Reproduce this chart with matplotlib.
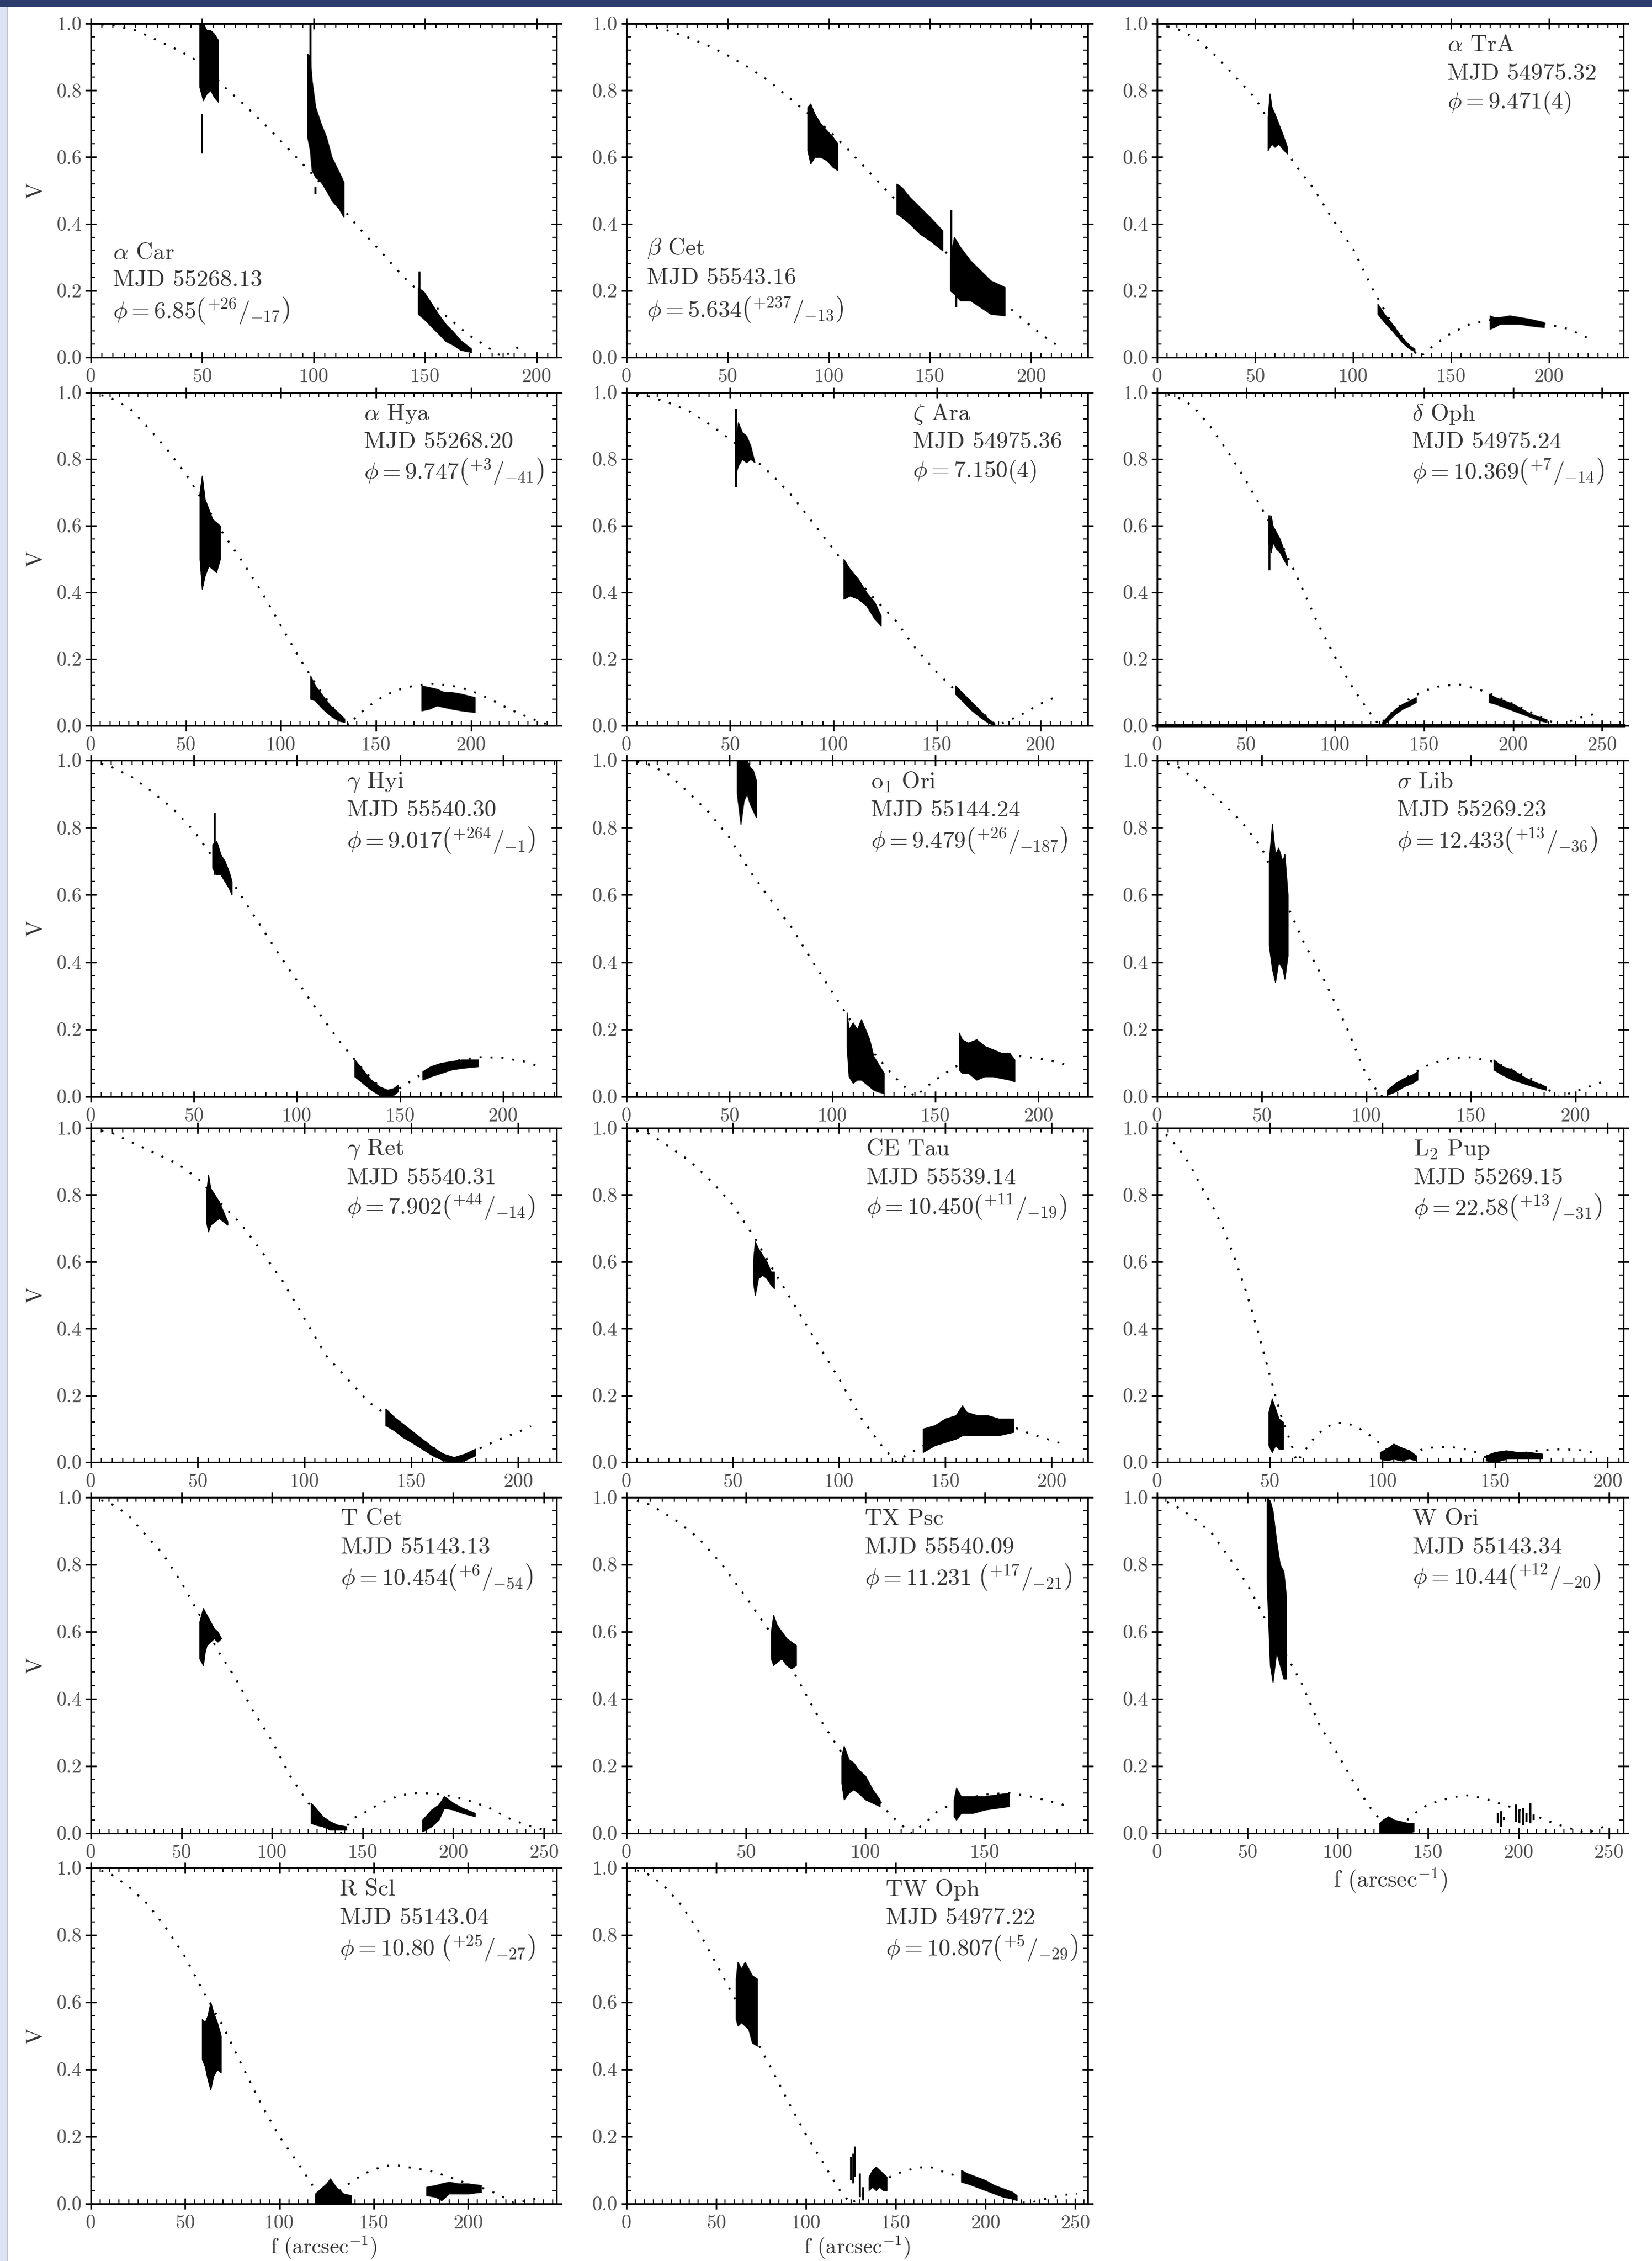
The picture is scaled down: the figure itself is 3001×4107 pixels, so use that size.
import matplotlib
matplotlib.use('Agg')
import matplotlib.pyplot as plt
from matplotlib.ticker import MultipleLocator, FormatStrFormatter
from matplotlib.patches import Rectangle
from matplotlib.mathtext import MathTextParser

plt.rcParams['font.family'] = 'cmr10'
plt.rcParams['mathtext.fontset'] = 'cm'
plt.rcParams['axes.formatter.use_mathtext'] = True

W, H = 3001, 4107

# ---------------- data ----------------
# alpha Car
acar_mf = [0, 10, 20, 30, 40, 50, 60, 70, 80, 90, 100, 110, 120, 130, 140, 150, 160, 170, 180, 185, 194]
acar_mv = [1.0, 0.995, 0.98, 0.95, 0.918, 0.88, 0.81, 0.75, 0.685, 0.615, 0.545, 0.47, 0.39, 0.318, 0.243, 0.18, 0.12, 0.065, 0.022, 0.0, 0.04]
acar_d1 = ([48.8, 50.4, 52.0, 53.7, 55.3, 57.2], [0.81, 0.77, 0.79, 0.80, 0.78, 0.765], [1.0, 1.0, 0.98, 0.98, 0.97, 0.95])
acar_d2 = ([97.2, 98.4, 99.2, 100.8, 103.3, 105.7, 108.1, 111.4, 113.5], [0.66, 0.62, 0.56, 0.54, 0.525, 0.5, 0.47, 0.445, 0.42], [0.91, 0.9, 0.83, 0.75, 0.70, 0.66, 0.6, 0.555, 0.525])
acar_d3 = ([146.8, 149.6, 152.8, 156.1, 159.3, 162.6, 165.9, 170.7], [0.13, 0.114, 0.092, 0.07, 0.048, 0.037, 0.022, 0.015], [0.21, 0.195, 0.162, 0.128, 0.099, 0.077, 0.051, 0.026])
acar_sp = ([49.8, 98.6, 147.6, 100.8], [0.61, 0.7, 0.13, 0.49], [0.73, 1.0, 0.257, 0.51])
acar_txt = (r'$\alpha$ Car', 'MJD 55268.13', r'$\phi = 6.85\left(^{+26}/_{-17}\right)$')

# beta Cet
bcet_mf = [4, 10, 20, 30, 40, 50, 60, 70, 80, 90, 100, 110, 120, 130, 140, 150, 160, 170, 180, 190, 200, 210, 215]
bcet_mv = [1.0, 0.995, 0.98, 0.96, 0.935, 0.905, 0.87, 0.83, 0.78, 0.73, 0.68, 0.62, 0.555, 0.49, 0.43, 0.37, 0.3, 0.245, 0.195, 0.145, 0.093, 0.046, 0.03]
bcet_d1 = ([89.5, 91, 93, 96, 99, 102, 104.4], [0.62, 0.58, 0.6, 0.6, 0.59, 0.57, 0.56], [0.75, 0.76, 0.73, 0.7, 0.68, 0.66, 0.64])
bcet_d2 = ([133.5, 136, 140, 145, 150, 156.2], [0.43, 0.42, 0.40, 0.37, 0.35, 0.32], [0.52, 0.51, 0.48, 0.45, 0.42, 0.38])
bcet_d3 = ([160, 162, 165, 170, 175, 180, 187], [0.2, 0.19, 0.17, 0.17, 0.15, 0.13, 0.125], [0.3, 0.36, 0.33, 0.29, 0.26, 0.23, 0.21])
bcet_sp = ([160.5, 163], [0.2, 0.15], [0.44, 0.2])
bcet_txt = (r'$\beta$ Cet', 'MJD 55543.16', r'$\phi = 5.634\left(^{+237}/_{-13}\right)$')

# alpha TrA
atra_mf = [0, 10, 20, 30, 40, 50, 60, 70, 80, 90, 100, 110, 120, 130, 134, 140, 150, 160, 170, 180, 190, 200, 210, 222]
atra_mv = [1.0, 0.985, 0.955, 0.903, 0.84, 0.777, 0.68, 0.58, 0.505, 0.41, 0.325, 0.205, 0.1, 0.025, 0.0, 0.03, 0.072, 0.1, 0.112, 0.112, 0.106, 0.098, 0.085, 0.052]
atra_d1 = ([56.5, 57.5, 58.5, 60, 62, 64, 66.4], [0.62, 0.63, 0.64, 0.63, 0.64, 0.625, 0.61], [0.72, 0.79, 0.75, 0.73, 0.70, 0.67, 0.63])
atra_d2 = ([112.6, 116, 120, 125, 129, 131.5], [0.13, 0.105, 0.08, 0.045, 0.025, 0.018], [0.16, 0.13, 0.1, 0.06, 0.035, 0.025])
atra_d3 = ([169.8, 172, 175, 180, 185, 190, 197.5], [0.085, 0.09, 0.1, 0.1, 0.1, 0.095, 0.09], [0.125, 0.12, 0.12, 0.125, 0.12, 0.115, 0.105])
atra_txt = (r'$\alpha$ TrA', 'MJD 54975.32', r'$\phi = 9.471(4)$')

# alpha Hya
ahya_mf = [0, 10, 20, 30, 40, 50, 60, 70, 80, 90, 100, 110, 120, 130, 136, 140, 150, 160, 170, 180, 190, 200, 210, 220, 230, 240]
ahya_mv = [1.0, 0.985, 0.955, 0.895, 0.83, 0.755, 0.665, 0.573, 0.49, 0.4, 0.3, 0.2, 0.11, 0.035, 0.0, 0.03, 0.075, 0.105, 0.12, 0.125, 0.12, 0.105, 0.08, 0.05, 0.025, 0.003]
ahya_d1 = ([57.3, 58.5, 60, 62, 64, 66, 68], [0.5, 0.41, 0.45, 0.48, 0.47, 0.46, 0.5], [0.7, 0.75, 0.68, 0.65, 0.62, 0.61, 0.6])
ahya_d2 = ([115.5, 118, 122, 126, 130, 133.5], [0.08, 0.075, 0.05, 0.03, 0.015, 0.01], [0.15, 0.12, 0.09, 0.06, 0.04, 0.02])
ahya_d3 = ([174, 178, 182, 186, 190, 195, 202], [0.045, 0.05, 0.06, 0.055, 0.05, 0.045, 0.04], [0.12, 0.115, 0.11, 0.1, 0.1, 0.095, 0.085])
ahya_txt = (r'$\alpha$ Hya', 'MJD 55268.20', r'$\phi = 9.747\left(^{+3}/_{-41}\right)$')

# zeta Ara
zara_mf = [0, 10, 20, 30, 40, 50, 60, 70, 80, 90, 100, 110, 120, 130, 140, 150, 160, 170, 179, 190, 200, 209]
zara_mv = [1.0, 0.99, 0.97, 0.945, 0.905, 0.86, 0.81, 0.755, 0.69, 0.61, 0.53, 0.45, 0.38, 0.316, 0.23, 0.16, 0.1, 0.05, 0.0, 0.03, 0.065, 0.09]
zara_d1 = ([52.5, 54, 56, 58, 60, 62], [0.75, 0.78, 0.8, 0.79, 0.8, 0.79], [0.85, 0.91, 0.88, 0.87, 0.84, 0.79])
zara_d2 = ([105, 108, 112, 116, 120, 123], [0.38, 0.39, 0.38, 0.36, 0.32, 0.3], [0.5, 0.47, 0.44, 0.4, 0.37, 0.33])
zara_d3 = ([159, 163, 167, 171, 175, 178], [0.095, 0.07, 0.045, 0.025, 0.008, 0.0], [0.12, 0.095, 0.07, 0.045, 0.02, 0.006])
zara_sp = ([53.0], [0.715], [0.95])
zara_txt = (r'$\zeta$ Ara', 'MJD 54975.36', r'$\phi = 7.150(4)$')

# delta Oph
doph_mf = [0, 10, 20, 30, 40, 50, 60, 70, 80, 90, 100, 110, 120, 125, 130, 140, 150, 160, 170, 180, 190, 200, 210, 220, 227, 235, 248]
doph_mv = [1.0, 0.99, 0.96, 0.897, 0.82, 0.735, 0.64, 0.545, 0.43, 0.31, 0.205, 0.113, 0.035, 0.0, 0.03, 0.075, 0.105, 0.12, 0.123, 0.11, 0.09, 0.065, 0.04, 0.015, 0.0, 0.02, 0.038]
doph_d1 = ([62.5, 64, 65, 67, 69, 71, 73], [0.55, 0.52, 0.55, 0.53, 0.52, 0.5, 0.48], [0.6, 0.63, 0.6, 0.58, 0.56, 0.53, 0.5])
doph_d2 = ([126.5, 130, 134, 138, 142, 145.5], [0.0, 0.015, 0.035, 0.05, 0.06, 0.07], [0.01, 0.03, 0.05, 0.065, 0.075, 0.085])
doph_d3 = ([186.5, 190, 195, 200, 205, 210, 215, 219], [0.07, 0.065, 0.055, 0.045, 0.035, 0.025, 0.015, 0.01], [0.095, 0.085, 0.075, 0.065, 0.05, 0.035, 0.025, 0.018])
doph_sp = ([63.0], [0.466], [0.632])
doph_txt = (r'$\delta$ Oph', 'MJD 54975.24', r'$\phi = 10.369\left(^{+7}/_{-14}\right)$')

# gamma Hyi
ghyi_mf = [0, 10, 20, 30, 40, 50, 60, 70, 80, 90, 100, 110, 120, 130, 140, 145, 150, 160, 170, 180, 190, 200, 210, 216]
ghyi_mv = [1.0, 0.98, 0.95, 0.905, 0.855, 0.79, 0.705, 0.625, 0.53, 0.435, 0.345, 0.255, 0.17, 0.095, 0.03, 0.0, 0.025, 0.065, 0.095, 0.11, 0.118, 0.115, 0.105, 0.093]
ghyi_d1 = ([59, 61, 63, 65, 67, 68.4], [0.68, 0.66, 0.66, 0.64, 0.62, 0.6], [0.75, 0.76, 0.72, 0.7, 0.67, 0.64])
ghyi_d2 = ([128, 132, 136, 140, 144, 147, 149], [0.06, 0.04, 0.02, 0.005, 0.0, 0.005, 0.015], [0.11, 0.08, 0.05, 0.03, 0.02, 0.025, 0.035])
ghyi_d3 = ([161, 165, 170, 175, 180, 188], [0.05, 0.06, 0.07, 0.08, 0.085, 0.09], [0.075, 0.09, 0.1, 0.105, 0.11, 0.11])
ghyi_sp = ([60.0], [0.66], [0.843])
ghyi_txt = (r'$\gamma$ Hyi', 'MJD 55540.30', r'$\phi = 9.017\left(^{+264}/_{-1}\right)$')

# o1 Ori
o1ori_mf = [0, 10, 20, 30, 40, 50, 60, 70, 80, 90, 100, 110, 120, 130, 140, 150, 160, 170, 180, 190, 200, 210, 216]
o1ori_mv = [1.0, 0.99, 0.96, 0.905, 0.845, 0.77, 0.67, 0.585, 0.505, 0.405, 0.31, 0.215, 0.13, 0.06, 0.0, 0.05, 0.09, 0.115, 0.122, 0.121, 0.114, 0.102, 0.088]
o1ori_d1 = ([53.7, 55.5, 57, 58.5, 60, 61.5, 63], [0.9, 0.81, 0.88, 0.9, 0.87, 0.85, 0.83], [1.0, 1.0, 1.0, 1.0, 0.98, 0.97, 0.94])
o1ori_d2 = ([107, 108, 110, 112, 114, 116, 118, 120, 122, 125], [0.15, 0.06, 0.04, 0.05, 0.05, 0.04, 0.03, 0.02, 0.015, 0.01], [0.25, 0.2, 0.22, 0.2, 0.23, 0.2, 0.17, 0.12, 0.1, 0.07])
o1ori_d3 = ([161.5, 163, 166, 170, 174, 178, 182, 186, 188.5], [0.08, 0.07, 0.07, 0.05, 0.06, 0.06, 0.055, 0.05, 0.045], [0.19, 0.17, 0.16, 0.17, 0.15, 0.14, 0.13, 0.13, 0.11])
o1ori_txt = (r'$\mathrm{o}_1$ Ori', 'MJD 55144.24', r'$\phi = 9.479\left(^{+26}/_{-187}\right)$')

# sigma Lib
slib_mf = [0, 10, 20, 30, 40, 50, 60, 70, 80, 90, 100, 107, 110, 120, 130, 140, 150, 160, 170, 180, 192, 200, 210, 215]
slib_mv = [1.0, 0.98, 0.935, 0.88, 0.82, 0.74, 0.6, 0.46, 0.345, 0.215, 0.065, 0.0, 0.015, 0.06, 0.095, 0.115, 0.117, 0.105, 0.08, 0.05, 0.0, 0.015, 0.038, 0.047]
slib_d1 = ([53.5, 55, 56.5, 58, 60, 61, 62.5], [0.45, 0.38, 0.34, 0.4, 0.38, 0.35, 0.42], [0.7, 0.81, 0.72, 0.74, 0.7, 0.72, 0.6])
slib_d2 = ([110, 114, 118, 122, 124.6], [0.005, 0.015, 0.03, 0.04, 0.05], [0.02, 0.04, 0.055, 0.065, 0.075])
slib_d3 = ([161, 165, 170, 175, 180, 186], [0.08, 0.065, 0.05, 0.04, 0.03, 0.02], [0.11, 0.09, 0.08, 0.06, 0.045, 0.03])
slib_txt = (r'$\sigma$ Lib', 'MJD 55269.23', r'$\phi = 12.433\left(^{+13}/_{-36}\right)$')

# gamma Ret
gret_mf = [0, 10, 20, 30, 40, 50, 60, 70, 80, 90, 100, 110, 120, 130, 140, 150, 160, 170, 180, 190, 200, 206]
gret_mv = [1.0, 0.985, 0.955, 0.925, 0.895, 0.85, 0.78, 0.715, 0.63, 0.54, 0.43, 0.32, 0.25, 0.18, 0.135, 0.09, 0.045, 0.0, 0.035, 0.065, 0.09, 0.108]
gret_d1 = ([54, 55, 56, 58, 60, 62, 64], [0.72, 0.69, 0.71, 0.72, 0.73, 0.72, 0.71], [0.8, 0.86, 0.82, 0.8, 0.78, 0.75, 0.72])
gret_d2 = ([138, 142, 146, 150, 155, 160, 165, 170, 175, 180], [0.11, 0.095, 0.075, 0.06, 0.04, 0.02, 0.005, 0.0, 0.005, 0.02], [0.16, 0.135, 0.115, 0.095, 0.07, 0.045, 0.025, 0.015, 0.025, 0.04])
gret_txt = (r'$\gamma$ Ret', 'MJD 55540.31', r'$\phi = 7.902\left(^{+44}/_{-14}\right)$')

# CE Tau
ctau_mf = [0, 10, 20, 30, 40, 50, 60, 70, 80, 90, 100, 110, 120, 127, 130, 140, 150, 160, 170, 180, 190, 200, 206]
ctau_mv = [1.0, 0.985, 0.945, 0.9, 0.84, 0.77, 0.675, 0.565, 0.46, 0.353, 0.25, 0.135, 0.05, 0.0, 0.015, 0.05, 0.085, 0.105, 0.115, 0.11, 0.085, 0.065, 0.053]
ctau_d1 = ([59.6, 60.5, 62, 64, 66, 68, 69.5], [0.54, 0.5, 0.55, 0.56, 0.55, 0.53, 0.52], [0.6, 0.66, 0.64, 0.62, 0.6, 0.57, 0.57])
ctau_d2 = ([139.5, 145, 150, 155, 158, 160, 165, 170, 175, 182], [0.03, 0.05, 0.06, 0.07, 0.08, 0.08, 0.08, 0.08, 0.08, 0.09], [0.1, 0.11, 0.13, 0.14, 0.17, 0.15, 0.14, 0.14, 0.13, 0.13])
ctau_txt = ('CE Tau', 'MJD 55539.14', r'$\phi = 10.450\left(^{+11}/_{-19}\right)$')

# L2 Pup
l2pup_mf = [0, 5, 10, 15, 20, 25, 30, 35, 40, 45, 50, 55, 60, 62, 65, 70, 75, 80, 85, 90, 95, 100, 105, 108, 115, 120, 130, 140, 150, 155, 160, 170, 180, 190, 195]
l2pup_mv = [1.0, 0.975, 0.935, 0.885, 0.82, 0.76, 0.69, 0.6, 0.5, 0.385, 0.26, 0.14, 0.045, 0.0, 0.03, 0.075, 0.105, 0.118, 0.115, 0.1, 0.078, 0.05, 0.02, 0.0, 0.032, 0.043, 0.046, 0.035, 0.0, 0.01, 0.025, 0.035, 0.039, 0.035, 0.025]
l2pup_d1 = ([49.5, 51, 52.5, 54, 56], [0.05, 0.03, 0.05, 0.04, 0.04], [0.15, 0.19, 0.16, 0.13, 0.12])
l2pup_d2 = ([99, 102, 105, 108, 112, 115], [0.01, 0.005, 0.01, 0.005, 0.01, 0.005], [0.03, 0.04, 0.055, 0.045, 0.035, 0.02])
l2pup_d3 = ([146, 150, 155, 160, 165, 171], [0.005, 0.0, 0.01, 0.01, 0.01, 0.01], [0.02, 0.03, 0.035, 0.03, 0.03, 0.025])
l2pup_txt = (r'$\mathrm{L}_2$ Pup', 'MJD 55269.15', r'$\phi = 22.58\left(^{+13}/_{-31}\right)$')

# T Cet
tcet_mf = [0, 10, 20, 30, 40, 50, 60, 70, 80, 90, 100, 110, 120, 130, 138, 145, 150, 160, 170, 180, 190, 200, 210, 220, 230, 240, 250]
tcet_mv = [1.0, 0.985, 0.951, 0.89, 0.83, 0.747, 0.65, 0.545, 0.46, 0.36, 0.275, 0.17, 0.09, 0.035, 0.0, 0.045, 0.058, 0.09, 0.112, 0.12, 0.118, 0.11, 0.095, 0.075, 0.046, 0.025, 0.01]
tcet_d1 = ([60, 62, 63, 64, 66, 68, 70, 72], [0.52, 0.5, 0.54, 0.56, 0.57, 0.58, 0.57, 0.58], [0.63, 0.67, 0.66, 0.65, 0.63, 0.61, 0.6, 0.58])
tcet_d2 = ([121.5, 124, 128, 132, 136, 141], [0.03, 0.025, 0.02, 0.01, 0.01, 0.01], [0.09, 0.075, 0.05, 0.035, 0.025, 0.02])
tcet_d3 = ([183, 188, 192, 195, 200, 205, 212], [0.005, 0.02, 0.04, 0.075, 0.07, 0.06, 0.05], [0.04, 0.07, 0.085, 0.11, 0.09, 0.075, 0.06])
tcet_txt = ('T Cet', 'MJD 55143.13', r'$\phi = 10.454\left(^{+6}/_{-54}\right)$')

# TX Psc
txpsc_mf = [0, 10, 20, 30, 40, 50, 60, 70, 80, 90, 100, 110, 119, 125, 130, 140, 150, 160, 170, 180, 185]
txpsc_mv = [1.0, 0.978, 0.935, 0.88, 0.8, 0.703, 0.6, 0.48, 0.35, 0.24, 0.15, 0.057, 0.0, 0.03, 0.065, 0.1, 0.115, 0.12, 0.108, 0.09, 0.08]
txpsc_d1 = ([60.5, 61.5, 63, 65, 67, 69, 71], [0.52, 0.5, 0.51, 0.52, 0.5, 0.49, 0.5], [0.6, 0.65, 0.62, 0.6, 0.58, 0.57, 0.56])
txpsc_d2 = ([90, 91, 93, 95, 97, 100, 103, 106], [0.15, 0.1, 0.12, 0.13, 0.12, 0.1, 0.09, 0.08], [0.23, 0.26, 0.22, 0.21, 0.19, 0.17, 0.13, 0.1])
txpsc_d3 = ([137, 138, 140, 145, 150, 155, 160], [0.05, 0.04, 0.06, 0.06, 0.07, 0.075, 0.08], [0.1, 0.135, 0.11, 0.11, 0.11, 0.115, 0.12])
txpsc_txt = ('TX Psc', 'MJD 55540.09', r'$\phi = 11.231\ \left(^{+17}/_{-21}\right)$')

# W Ori
wori_mf = [0, 10, 20, 30, 40, 50, 60, 70, 80, 90, 100, 110, 120, 126, 133, 140, 150, 160, 170, 180, 190, 200, 210, 220, 230, 238, 249]
wori_mv = [1.0, 0.975, 0.94, 0.895, 0.82, 0.74, 0.635, 0.545, 0.446, 0.32, 0.235, 0.14, 0.06, 0.03, 0.0, 0.05, 0.086, 0.102, 0.114, 0.105, 0.088, 0.07, 0.05, 0.029, 0.012, 0.0, 0.023]
wori_d1 = ([60.7, 62.5, 64, 66, 68, 70, 71.5], [0.75, 0.5, 0.45, 0.54, 0.5, 0.46, 0.46], [1.0, 0.99, 0.96, 0.87, 0.8, 0.78, 0.7])
wori_d2 = ([123, 125, 128, 131, 135, 139, 142], [0.0, 0.002, 0.0, 0.003, 0.0, 0.002, 0.005], [0.03, 0.04, 0.05, 0.04, 0.035, 0.03, 0.03])
wori_sp = ([188.5, 190.5, 192, 198.5, 200.5, 202.5, 204.5, 206.5, 208.5], [0.03, 0.02, 0.04, 0.035, 0.03, 0.025, 0.035, 0.03, 0.04], [0.06, 0.065, 0.05, 0.085, 0.07, 0.075, 0.06, 0.09, 0.055])
wori_txt = ('W Ori', 'MJD 55143.34', r'$\phi = 10.44\left(^{+12}/_{-20}\right)$')

# R Scl
rscl_mf = [0, 10, 20, 30, 40, 50, 60, 70, 80, 90, 100, 110, 117, 123, 130, 137, 145, 155, 162, 170, 180, 190, 200, 210, 217, 224, 231, 239]
rscl_mv = [1.0, 0.984, 0.945, 0.893, 0.82, 0.735, 0.628, 0.53, 0.413, 0.3, 0.2, 0.12, 0.06, 0.0, 0.03, 0.06, 0.09, 0.112, 0.115, 0.107, 0.098, 0.08, 0.059, 0.043, 0.025, 0.004, 0.008, 0.02]
rscl_d1 = ([59, 60.5, 62, 63.5, 65, 67, 69], [0.43, 0.41, 0.37, 0.34, 0.38, 0.4, 0.39], [0.55, 0.54, 0.56, 0.6, 0.57, 0.54, 0.5])
rscl_d2 = ([119, 122, 125, 127, 130, 134, 138], [0.0, 0.002, 0.0, 0.003, 0.0, 0.002, 0.0], [0.03, 0.045, 0.06, 0.075, 0.05, 0.03, 0.025])
rscl_d3 = ([178, 183, 186, 190, 195, 200, 207], [0.025, 0.02, 0.01, 0.03, 0.03, 0.03, 0.035], [0.05, 0.055, 0.06, 0.065, 0.06, 0.06, 0.055])
rscl_txt = ('R Scl', 'MJD 55143.04', r'$\phi = 10.80\ \left(^{+25}/_{-27}\right)$')

# TW Oph
twoph_mf = [0, 10, 20, 30, 40, 50, 60, 70, 80, 90, 100, 110, 118, 125, 130, 138, 146, 155, 162, 169, 175, 182, 190, 200, 210, 220, 225, 235, 243, 251]
twoph_mv = [1.0, 0.988, 0.952, 0.893, 0.813, 0.715, 0.615, 0.51, 0.41, 0.305, 0.206, 0.118, 0.046, 0.0, 0.02, 0.06, 0.078, 0.098, 0.107, 0.11, 0.098, 0.086, 0.07, 0.05, 0.027, 0.004, 0.003, 0.017, 0.026, 0.03]
twoph_d1 = ([61, 62, 64, 66, 68, 70, 72.8], [0.55, 0.53, 0.54, 0.53, 0.52, 0.48, 0.47], [0.67, 0.72, 0.7, 0.72, 0.7, 0.68, 0.67])
twoph_d2 = ([135, 137, 139, 141, 143, 145], [0.04, 0.05, 0.04, 0.05, 0.04, 0.04], [0.08, 0.1, 0.11, 0.1, 0.09, 0.08])
twoph_d3 = ([186.5, 190, 195, 200, 205, 210, 215, 217.5], [0.065, 0.06, 0.05, 0.04, 0.03, 0.02, 0.015, 0.01], [0.1, 0.09, 0.08, 0.07, 0.055, 0.045, 0.035, 0.025])
twoph_sp = ([125.2, 126.2, 127.2, 130, 132], [0.07, 0.06, 0.08, 0.02, 0.01], [0.14, 0.15, 0.17, 0.09, 0.05])
twoph_txt = ('TW Oph', 'MJD 54977.22', r'$\phi = 10.807\left(^{+5}/_{-29}\right)$')

# ---------------- layout (pixels) ----------------
col_lr = [(165, 1011), (1138, 1976), (2102, 2949)]
row_tb = [(43, 649), (713, 1318), (1381, 1992), (2049, 2656), (2720, 3330), (3393, 4003)]

UR_Y = (0.935, 0.85, 0.763)
panels = [
    dict(r=0, c=0, xmax=209, m=(acar_mf, acar_mv), d=[acar_d1, acar_d2, acar_d3], sp=acar_sp, t=acar_txt, tx=0.047, ty=(0.312, 0.231, 0.14)),
    dict(r=0, c=1, xmax=228, m=(bcet_mf, bcet_mv), d=[bcet_d1, bcet_d2, bcet_d3], sp=bcet_sp, t=bcet_txt, tx=0.044, ty=(0.325, 0.237, 0.144)),
    dict(r=0, c=2, xmax=238, m=(atra_mf, atra_mv), d=[atra_d1, atra_d2, atra_d3], sp=None, t=atra_txt, tx=0.622, ty=UR_Y),
    dict(r=1, c=0, xmax=245, m=(ahya_mf, ahya_mv), d=[ahya_d1, ahya_d2, ahya_d3], sp=None, t=ahya_txt, tx=0.586, ty=UR_Y),
    dict(r=1, c=1, xmax=223, m=(zara_mf, zara_mv), d=[zara_d1, zara_d2, zara_d3], sp=zara_sp, t=zara_txt, tx=0.62, ty=UR_Y),
    dict(r=1, c=2, xmax=262, m=(doph_mf, doph_mv), d=[doph_d1, doph_d2, doph_d3], sp=doph_sp, t=doph_txt, tx=0.547, ty=UR_Y, thick=True),
    dict(r=2, c=0, xmax=226, m=(ghyi_mf, ghyi_mv), d=[ghyi_d1, ghyi_d2, ghyi_d3], sp=ghyi_sp, t=ghyi_txt, tx=0.55, ty=UR_Y),
    dict(r=2, c=1, xmax=224, m=(o1ori_mf, o1ori_mv), d=[o1ori_d1, o1ori_d2, o1ori_d3], sp=None, t=o1ori_txt, tx=0.53, ty=UR_Y),
    dict(r=2, c=2, xmax=223, m=(slib_mf, slib_mv), d=[slib_d1, slib_d2, slib_d3], sp=None, t=slib_txt, tx=0.515, ty=UR_Y),
    dict(r=3, c=0, xmax=218, m=(gret_mf, gret_mv), d=[gret_d1, gret_d2], sp=None, t=gret_txt, tx=0.55, ty=UR_Y),
    dict(r=3, c=1, xmax=217, m=(ctau_mf, ctau_mv), d=[ctau_d1, ctau_d2], sp=None, t=ctau_txt, tx=0.52, ty=UR_Y),
    dict(r=3, c=2, xmax=207, m=(l2pup_mf, l2pup_mv), d=[l2pup_d1, l2pup_d2, l2pup_d3], sp=None, t=l2pup_txt, tx=0.55, ty=UR_Y),
    dict(r=4, c=0, xmax=257, m=(tcet_mf, tcet_mv), d=[tcet_d1, tcet_d2, tcet_d3], sp=None, t=tcet_txt, tx=0.537, ty=UR_Y),
    dict(r=4, c=1, xmax=193, m=(txpsc_mf, txpsc_mv), d=[txpsc_d1, txpsc_d2, txpsc_d3], sp=None, t=txpsc_txt, tx=0.517, ty=UR_Y),
    dict(r=4, c=2, xmax=258, m=(wori_mf, wori_mv), d=[wori_d1, wori_d2], sp=wori_sp, t=wori_txt, tx=0.548, ty=UR_Y, xl=-0.10, xfs=30),
    dict(r=5, c=0, xmax=247, m=(rscl_mf, rscl_mv), d=[rscl_d1, rscl_d2, rscl_d3], sp=None, t=rscl_txt, tx=0.534, ty=UR_Y, xl=-0.092, xfs=28),
    dict(r=5, c=1, xmax=257, m=(twoph_mf, twoph_mv), d=[twoph_d1, twoph_d2, twoph_d3], sp=twoph_sp, t=twoph_txt, tx=0.562, ty=UR_Y, xl=-0.092, xfs=28),
]

TXT_C = '#363636'
TICK_C = '#4e4e4e'
_parser = MathTextParser('path')


def safe_math(s):
    try:
        _parser.parse(s, dpi=72)
        return s
    except Exception:
        return s.replace(r'\left(', '(').replace(r'\right)', ')')


fig = plt.figure(figsize=(W / 100, H / 100), dpi=100)
fig.patch.set_facecolor('white')
# page decorations
fig.patches.append(Rectangle((0, 1 - 12.5 / H), 1, 12.5 / H, transform=fig.transFigure,
                             facecolor='#2c3c6c', edgecolor='none', zorder=-5))
fig.patches.append(Rectangle((0, 0), 13 / W, 1 - 12.5 / H, transform=fig.transFigure,
                             facecolor='#dde3f2', edgecolor='none', zorder=-5))
fig.patches.append(Rectangle((12 / W, 0), 2 / W, 1 - 12.5 / H, transform=fig.transFigure,
                             facecolor='#b4c0dc', edgecolor='none', zorder=-4))

for p in panels:
    l, rr = col_lr[p['c']]
    t, b = row_tb[p['r']]
    ax = fig.add_axes([l / W, 1 - b / H, (rr - l) / W, (b - t) / H])
    ax.set_xlim(0, p['xmax'])
    ax.set_ylim(0, 1.0)

    mf, mv = p['m']
    ax.plot(mf, mv, color='black', lw=2.6, ls=(0, (1, 4.5)), zorder=2)
    for (x, lo, hi) in p['d']:
        ax.fill_between(x, lo, hi, facecolor='black', edgecolor='black', lw=1.2, zorder=3)
    if p['sp'] is not None:
        sx, slo, shi = p['sp']
        ax.vlines(sx, slo, shi, color='black', lw=2.6, zorder=3)

    ax.xaxis.set_major_locator(MultipleLocator(50))
    ax.xaxis.set_minor_locator(MultipleLocator(5))
    ax.yaxis.set_major_locator(MultipleLocator(0.2))
    ax.yaxis.set_minor_locator(MultipleLocator(0.04))
    ax.xaxis.set_major_formatter(FormatStrFormatter('%d'))
    ax.yaxis.set_major_formatter(FormatStrFormatter('%.1f'))
    ax.tick_params(which='major', direction='inout', length=15, width=2.0,
                   top=True, right=True, labelsize=26, labelcolor=TICK_C)
    ax.tick_params(which='minor', direction='in', length=5.5, width=1.5,
                   top=True, right=True)
    ax.tick_params(axis='x', which='major', pad=7)
    ax.tick_params(axis='y', which='major', pad=4)
    for s in ax.spines.values():
        s.set_linewidth(2.2)
    if p.get('thick'):
        ax.spines['bottom'].set_linewidth(4.5)

    for s, y in zip(p['t'], p['ty']):
        ax.text(p['tx'], y, safe_math(s), transform=ax.transAxes, fontsize=31,
                color=TXT_C, ha='left', va='center', zorder=5)

    if p['c'] == 0:
        ax.set_ylabel('V', fontsize=30, color=TXT_C)
        ax.yaxis.set_label_coords(-0.095, 0.5)
    if p.get('xl') is not None:
        ax.set_xlabel(r'f (arcsec$^{-1}$)', fontsize=p['xfs'], color=TXT_C)
        ax.xaxis.set_label_coords(0.5, p['xl'])

fig.savefig('out.png', dpi=100, facecolor='white')
